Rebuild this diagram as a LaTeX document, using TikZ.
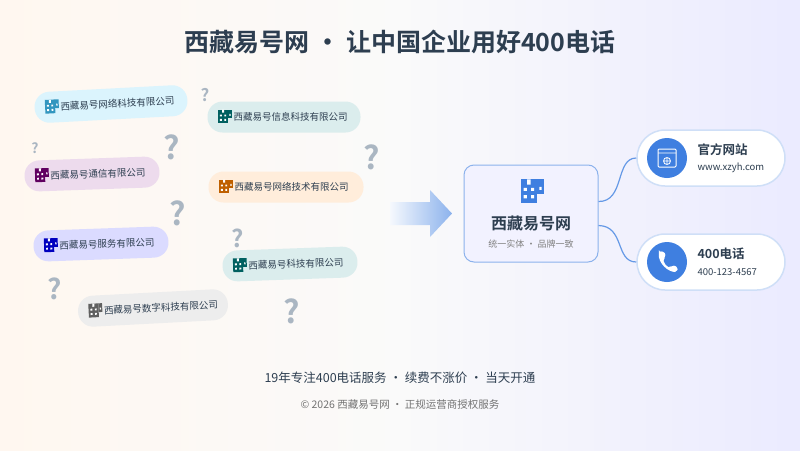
\documentclass[tikz,border=0pt]{standalone}
\usepackage{fontspec}
\setmainfont{Noto Sans CJK SC}
\newfontfamily\cjkbold{Noto Sans CJK SC}[BoldFont={* Bold}]
\usetikzlibrary{positioning,calc}
\definecolor{titlecol}{HTML}{2D3E50}
\definecolor{brand}{HTML}{3F7FE0}
\definecolor{qcol}{HTML}{AAB6C2}
\tikzset{
  pill/.style={rounded corners=15pt, minimum height=31pt, inner xsep=10pt, font=\fontsize{9.5}{10}\selectfont, text=titlecol},
  card/.style={draw=brand!25, line width=1.5pt, fill=white, rounded corners=28pt, minimum width=148pt, minimum height=56pt},
  link/.style={draw=brand!80, line width=1.2pt},
  building/.pic={
    \fill[#1] (-5,5) rectangle (3,-6);
    \fill[#1] (3,1) rectangle (6,-6);
    \fill[white] (-3.5,3) rectangle (-2,1.5) (0,3) rectangle (1.5,1.5)
                 (-3.5,-0.5) rectangle (-2,-2) (0,-0.5) rectangle (1.5,-2)
                 (-1.8,-6) rectangle (-0.2,-3.5) (4,-1) rectangle (5,-2.5);
  }
}
% company label with icon
\newcommand{\company}[6]{%
  \node[pill, fill=#5!14, rotate=#4, text width=#6pt] (#1) at #2 {\hspace*{16pt}#3};
  \pic[rotate=#4, scale=1.25] at ($(#1.west)!17pt!(#1.east)$) {building=#5!75!black};
}
\begin{document}
\begin{tikzpicture}[x=1pt,y=-1pt]
  \shade[left color=orange!6, right color=blue!8, middle color=gray!4] (0,0) rectangle (800,450);
  \useasboundingbox (0,0) rectangle (800,450);
  \node[font=\cjkbold\bfseries\fontsize{25}{28}\selectfont, text=titlecol] (title) at (400,42) {西藏易号网 · 让中国企业用好400电话};
  % question marks
  \foreach \x/\y/\s in {205/95/17, 35/148/14, 172/147/32, 372/157/32, 178/213/32, 238/238/24, 55/289/28, 292/311/32}
    \node[text=qcol, font=\cjkbold\bfseries\fontsize{\s}{\s}\selectfont] at (\x,\y) {?};
  % companies
  \company{c1}{(111,104)}{西藏易号网络科技有限公司}{3}{cyan}{133}
  \company{c2}{(284,117)}{西藏易号信息科技有限公司}{0}{teal}{133}
  \company{c3}{(92,174)}{西藏易号通信有限公司}{2}{violet}{115}
  \company{c4}{(286,187)}{西藏易号网络技术有限公司}{0}{orange}{135}
  \company{c5}{(101,244)}{西藏易号服务有限公司}{2}{blue}{115}
  \company{c6}{(290,264)}{西藏易号科技有限公司}{2}{teal}{115}
  \company{c7}{(153,308)}{西藏易号数字科技有限公司}{3}{gray}{130}
  % arrow
  \shade[left color=brand!5, right color=brand!60] (390,202) -- (430,202) -- (430,190) -- (452,213.5) -- (430,237) -- (430,225) -- (390,225) -- cycle;
  % brand box
  \node[draw=brand!60, line width=1pt, fill=blue!5, rounded corners=10pt, minimum width=134pt, minimum height=97pt] (brandbox) at (531,213.5) {};
  \pic[scale=2.1] at (531,192) {building=brand};
  \node[font=\cjkbold\bfseries\fontsize{16}{17}\selectfont, text=titlecol] (bname) at (531,223) {西藏易号网};
  \node[font=\fontsize{9}{10}\selectfont, text=gray] (bslogan) at (531,244) {统一实体 · 品牌一致};
  % channels
  \node[card] (web) at (711,158) {};
  \node[card] (tel) at (711,262) {};
  \fill[brand] (667,158) circle (20);
  \fill[brand] (667,262) circle (20);
  \draw[white, line width=1pt, rounded corners=1pt] (658,149) rectangle (676,167);
  \draw[white, line width=0.8pt] (658,153) -- (676,153) (667,161) circle (3.5) (663.5,161) -- (670.5,161) (667,157.5) -- (667,164.5);
  % handset
  \fill[white, rounded corners=2pt] (659,252) -- (664,251) -- (666,257) -- (663,259) .. controls (664,263) and (666,266) .. (670,268) -- (672,265) -- (678,267) -- (677,272) .. controls (668,272) and (658,263) .. (659,252) -- cycle;
  \node[anchor=west, font=\cjkbold\bfseries\fontsize{12.5}{13}\selectfont, text=titlecol] (webt) at (694,150) {官方网站};
  \node[anchor=west, font=\fontsize{9.5}{10}\selectfont, text=titlecol] (webu) at (694,168) {www.xzyh.com};
  \node[anchor=west, font=\cjkbold\bfseries\fontsize{12.5}{13}\selectfont, text=titlecol] (telt) at (694,254) {400电话};
  \node[anchor=west, font=\fontsize{9.5}{10}\selectfont, text=titlecol] (teln) at (694,272) {400-123-4567};
  \draw[link] ($(brandbox.east)+(0,-12)$) .. controls (625,202) and (615,158) .. (web.west);
  \draw[link] ($(brandbox.east)+(0,12)$) .. controls (625,226) and (615,262) .. (tel.west);
  % footer
  \node[font=\fontsize{12.5}{13}\selectfont, text=titlecol] (foot1) at (400,378) {19年专注400电话服务 · 续费不涨价 · 当天开通};
  \node[font=\fontsize{10.5}{11}\selectfont, text=gray!90!black] (foot2) at (400,405) {© 2026 西藏易号网 · 正规运营商授权服务};
\end{tikzpicture}
\end{document}
